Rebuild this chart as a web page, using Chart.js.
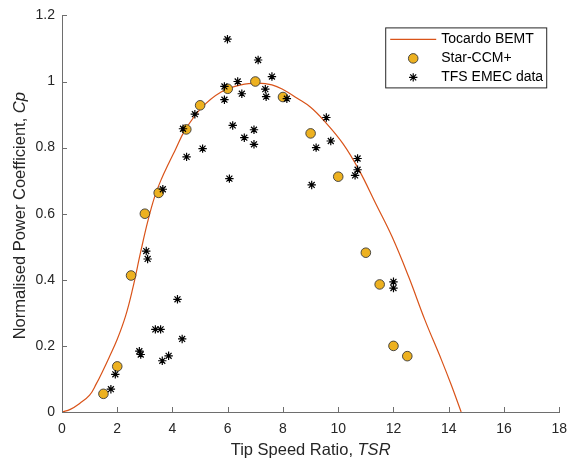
<!DOCTYPE html>
<html>
<head>
<meta charset="utf-8">
<script src="https://cdn.jsdelivr.net/npm/chart.js@4.4.0/dist/chart.umd.min.js"></script>
<style>
  html, body { margin: 0; padding: 0; background: #fff; }
  #wrap { width: 576px; height: 461px; }
</style>
</head>
<body>
<div id="wrap"><canvas id="cpChart" width="576" height="461"></canvas></div>
<script>
// Tocardo BEMT curve
const bemtTsr = [0, 0.3, 0.64, 1.0, 1.24, 1.48, 1.71, 2.0, 2.3, 2.55, 2.85, 3.1, 3.35, 3.6, 3.86, 4.1, 4.45, 5.05, 5.76, 6.48, 7.1, 7.6, 8.0, 8.5, 9.0, 9.5, 10.17, 10.76, 11.36, 11.95, 12.55, 13.14, 13.74, 14.1, 14.45];
const bemtCp  = [0, 0.008, 0.026, 0.051, 0.085, 0.125, 0.166, 0.22, 0.29, 0.37, 0.485, 0.575, 0.65, 0.705, 0.752, 0.793, 0.852, 0.92, 0.968, 0.99, 0.995, 0.99, 0.976, 0.95, 0.922, 0.88, 0.812, 0.731, 0.63, 0.53, 0.409, 0.278, 0.157, 0.08, 0];

// Star-CCM+ results
const ccmTsr = [1.5, 2.0, 2.5, 3.0, 3.5, 4.5, 5.0, 6.0, 7.0, 8.0, 9.0, 10.0, 11.0, 11.5, 12.0, 12.5];
const ccmCp  = [0.055, 0.138, 0.413, 0.6, 0.663, 0.855, 0.928, 0.978, 1.0, 0.953, 0.843, 0.712, 0.482, 0.386, 0.2, 0.169];

// TFS EMEC test data
const emecTsr = [1.77, 1.93, 2.8, 2.85, 3.05, 3.1, 3.38, 3.57, 3.63, 3.65, 3.86, 4.18, 4.35, 4.38, 4.51, 4.81, 5.09, 5.88, 5.88, 5.99, 6.06, 6.18, 6.36, 6.51, 6.6, 6.95, 6.95, 7.1, 7.36, 7.39, 7.6, 8.14, 9.04, 9.2, 9.57, 9.73, 10.61, 10.7, 10.7, 12.0, 12.0];
const emecCp  = [0.069, 0.114, 0.184, 0.174, 0.487, 0.463, 0.25, 0.25, 0.155, 0.674, 0.17, 0.341, 0.221, 0.857, 0.772, 0.901, 0.797, 0.985, 0.945, 1.128, 0.706, 0.867, 1.0, 0.963, 0.83, 0.854, 0.81, 1.065, 0.977, 0.954, 1.015, 0.948, 0.687, 0.80, 0.891, 0.82, 0.716, 0.733, 0.767, 0.394, 0.375];

const xTickLabels = ['0', '2', '4', '6', '8', '10', '12', '14', '16', '18'];
const yTickLabels = ['0', '0.2', '0.4', '0.6', '0.8', '1', '1.2'];

const textColor = '#262626';
const axisColor = '#6e6e6e';
const fontFamily = "'Liberation Sans', Arial, Helvetica, sans-serif";

Chart.defaults.font.family = fontFamily;
Chart.defaults.color = textColor;

function toPoints(xs, ys) {
  return xs.map((x, i) => ({ x: x, y: ys[i] }));
}

// inward tick marks, axis titles with italic symbols, and the boxed legend
const figureDecor = {
  id: 'figureDecor',
  afterDraw(chart) {
    const { ctx, chartArea, scales } = chart;
    const xs = scales.x, ys = scales.y;
    ctx.save();

    // tick marks pointing into the plot
    ctx.strokeStyle = axisColor;
    ctx.lineWidth = 1;
    ctx.beginPath();
    xs.ticks.forEach(t => {
      const px = Math.round(xs.getPixelForValue(t.value)) + 0.5;
      ctx.moveTo(px, chartArea.bottom);
      ctx.lineTo(px, chartArea.bottom - 5);
    });
    ys.ticks.forEach(t => {
      const py = Math.round(ys.getPixelForValue(t.value)) + 0.5;
      ctx.moveTo(chartArea.left, py);
      ctx.lineTo(chartArea.left + 5, py);
    });
    ctx.stroke();

    // x axis title
    ctx.fillStyle = textColor;
    ctx.textBaseline = 'middle';
    const normal = '16.5px ' + fontFamily;
    const italic = 'italic 16.5px ' + fontFamily;
    drawMixed(ctx, 'Tip Speed Ratio, ', 'TSR', (chartArea.left + chartArea.right) / 2, 450, normal, italic);

    // y axis title (rotated)
    ctx.save();
    ctx.translate(20, (chartArea.top + chartArea.bottom) / 2 + 2);
    ctx.rotate(-Math.PI / 2);
    drawMixed(ctx, 'Normalised Power Coefficient, ', 'Cp', 0, 0, normal, italic);
    ctx.restore();

    // legend box
    const lx = chartArea.right - 174, ly = chartArea.top + 12;
    const lw = 161, lh = 60;
    ctx.fillStyle = '#fff';
    ctx.fillRect(lx, ly, lw, lh);
    ctx.strokeStyle = '#262626';
    ctx.lineWidth = 1;
    ctx.strokeRect(lx + 0.5, ly + 0.5, lw, lh);

    ctx.font = '14px ' + fontFamily;
    chart.data.datasets.forEach((ds, i) => {
      const rowY = ly + 12 + i * 19;
      const midX = lx + 28;
      if (ds.type === 'line') {
        ctx.strokeStyle = ds.borderColor;
        ctx.lineWidth = ds.borderWidth;
        ctx.beginPath();
        ctx.moveTo(lx + 5, rowY);
        ctx.lineTo(lx + 51, rowY);
        ctx.stroke();
      } else {
        ctx.fillStyle = ds.backgroundColor;
        ctx.strokeStyle = ds.borderColor;
        ctx.lineWidth = ds.borderWidth;
        Chart.helpers.drawPoint(ctx, {
          pointStyle: ds.pointStyle,
          radius: ds.pointRadius,
          rotation: 0,
          borderWidth: ds.borderWidth
        }, midX, rowY);
      }
      ctx.fillStyle = '#000';
      ctx.textAlign = 'left';
      ctx.fillText(ds.label, lx + 56, rowY);
    });

    ctx.restore();
  }
};

function drawMixed(ctx, plain, ital, cx, cy, normalFont, italicFont) {
  ctx.font = normalFont;
  const w1 = ctx.measureText(plain).width;
  ctx.font = italicFont;
  const w2 = ctx.measureText(ital).width;
  const start = cx - (w1 + w2) / 2;
  ctx.textAlign = 'left';
  ctx.font = normalFont;
  ctx.fillText(plain, start, cy);
  ctx.font = italicFont;
  ctx.fillText(ital, start + w1, cy);
}

const ctx = document.getElementById('cpChart').getContext('2d');
const cpChart = new Chart(ctx, {
  type: 'scatter',
  data: {
    datasets: [
      {
        type: 'line',
        label: 'Tocardo BEMT',
        data: toPoints(bemtTsr, bemtCp),
        borderColor: '#D95319',
        borderWidth: 1.2,
        pointRadius: 0,
        fill: false,
        tension: 0.4,
        order: 3
      },
      {
        type: 'scatter',
        label: 'Star-CCM+',
        data: toPoints(ccmTsr, ccmCp),
        pointStyle: 'circle',
        pointRadius: 4.8,
        backgroundColor: '#EDB120',
        borderColor: '#3a3a3a',
        borderWidth: 0.9,
        order: 2
      },
      {
        type: 'scatter',
        label: 'TFS EMEC data',
        data: toPoints(emecTsr, emecCp),
        pointStyle: 'star',
        pointRadius: 4.2,
        backgroundColor: '#000',
        borderColor: '#000',
        borderWidth: 1.2,
        order: 1
      }
    ]
  },
  options: {
    responsive: false,
    animation: false,
    layout: { padding: { top: 15, right: 10, left: 0, bottom: 0 } },
    plugins: {
      legend: { display: false },
      tooltip: { enabled: false }
    },
    scales: {
      x: {
        type: 'linear',
        min: 0,
        max: 18,
        grid: { display: false, drawTicks: false },
        border: { display: true, color: axisColor, width: 1 },
        ticks: {
          stepSize: 2,
          padding: 9,
          color: textColor,
          font: { size: 14 },
          maxRotation: 0,
          callback: (v, i) => xTickLabels[i]
        },
        afterFit: scale => { scale.height = 49; }
      },
      y: {
        type: 'linear',
        min: 0,
        max: 1.2,
        grid: { display: false, drawTicks: false },
        border: { display: true, color: axisColor, width: 1 },
        ticks: {
          stepSize: 0.2,
          padding: 7,
          color: textColor,
          font: { size: 14 },
          callback: (v, i) => yTickLabels[i]
        },
        afterFit: scale => { scale.width = 62; }
      }
    }
  },
  plugins: [figureDecor]
});
</script>
</body>
</html>
